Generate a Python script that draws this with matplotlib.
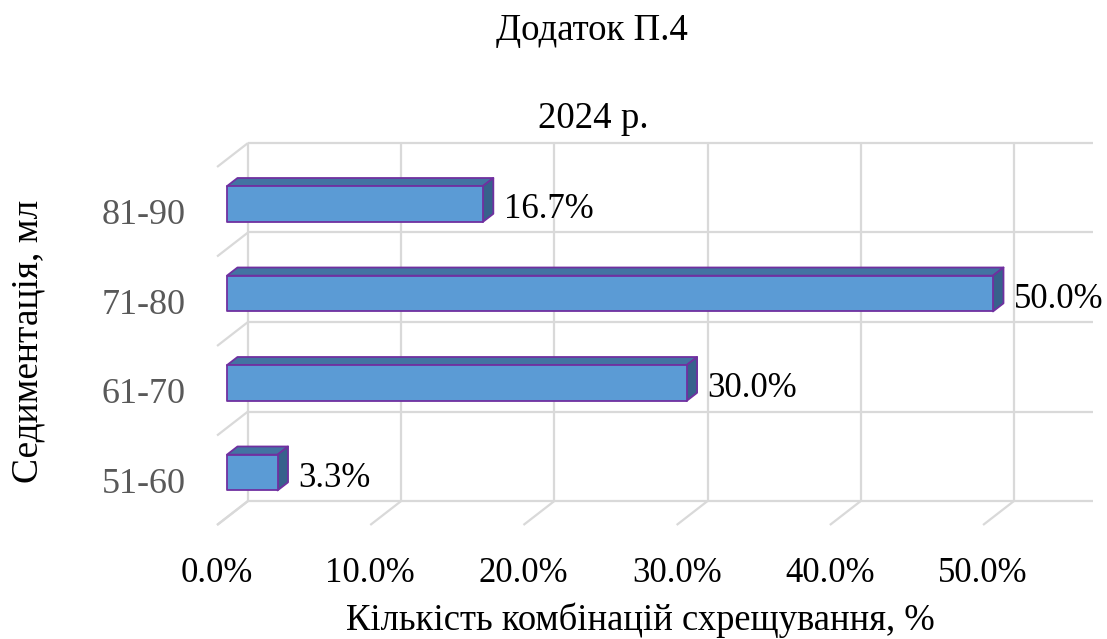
import matplotlib.pyplot as plt
from matplotlib.patches import Polygon

# data
categories = ['51-60', '61-70', '71-80', '81-90']
values = [3.3, 30.0, 50.0, 16.7]
x_ticks = [0, 10, 20, 30, 40, 50]
x_tick_labels = ['0.0%', '10.0%', '20.0%', '30.0%', '40.0%', '50.0%']

fig_title = 'Додаток П.4'
chart_title = '2024 р.'
x_title = 'Кількість комбінацій схрещування, %'
y_title = 'Седиментація, мл'

plt.rcParams['font.family'] = ['Liberation Serif', 'DejaVu Serif']

W, H = 1107, 639
fig = plt.figure(figsize=(W / 100, H / 100), dpi=100)
ax = fig.add_axes([0, 0, 1, 1])

# pixel mapping of the back wall (x in %, y in category rows)
px_per_x = 15.32
px_per_y = 89.5
x0_px, y0_px = 248, 501
ax.set_xlim(-x0_px / px_per_x, (W - x0_px) / px_per_x)
ax.set_ylim((y0_px - H) / px_per_y, y0_px / px_per_y)
ax.axis('off')

# 3D depth offset (back wall -> front of floor)
ddx, ddy = -2.02, -0.268
x_max = 55.15
n = len(categories)

grid_kw = dict(color='#d9d9d9', lw=1.6, zorder=1, solid_capstyle='butt')
for t in x_ticks:
    ax.plot([t, t], [0, n], **grid_kw)
    ax.plot([t, t + ddx], [0, ddy], **grid_kw)
for k in range(n + 1):
    ax.plot([0, x_max], [k, k], **grid_kw)
    ax.plot([0, ddx], [k, k + ddy], **grid_kw)

# bars
d0, d1 = 0.34, 0.68
h = 0.40
front_c = '#5b9bd5'
top_c = '#4373a2'
side_c = '#37618c'
edge_c = '#7030a0'
for i, v in enumerate(values):
    c = i + 0.5
    ox0, oy0 = ddx * d0, ddy * d0
    ox1, oy1 = ddx * d1, ddy * d1
    lo, hi = c - h / 2, c + h / 2
    front = [(ox1, lo + oy1), (v + ox1, lo + oy1), (v + ox1, hi + oy1), (ox1, hi + oy1)]
    top = [(ox1, hi + oy1), (v + ox1, hi + oy1), (v + ox0, hi + oy0), (ox0, hi + oy0)]
    side = [(v + ox1, lo + oy1), (v + ox1, hi + oy1), (v + ox0, hi + oy0), (v + ox0, lo + oy0)]
    for pts, col in [(top, top_c), (side, side_c), (front, front_c)]:
        ax.add_patch(Polygon(pts, closed=True, facecolor=col, edgecolor=edge_c,
                             lw=1.3, joinstyle='round', zorder=3))
    ax.text(v, c + oy1 - 0.156, f'{v:.1f}%', fontsize=25, color='black',
            ha='left', va='baseline', zorder=4)

# category labels (front plane)
for i, cat in enumerate(categories):
    ax.text(-4.05, i + 0.5 + ddy - 0.14, cat, fontsize=26, color='#595959',
            ha='right', va='baseline')

# x tick labels (front of floor)
for t, lab in zip(x_ticks, x_tick_labels):
    ax.text(t + ddx, (y0_px - 582) / px_per_y, lab, fontsize=25, color='black',
            ha='center', va='baseline')

# titles
fig.text(592 / W, 1 - 40 / H, fig_title, fontsize=26.6, ha='center', va='baseline')
fig.text(593 / W, 1 - 128 / H, chart_title, fontsize=26.6, ha='center', va='baseline')
fig.text(640 / W, 1 - 630 / H, x_title, fontsize=26.4, ha='center', va='baseline')
fig.text(28 / W, 1 - 341 / H, y_title, fontsize=27, rotation=90,
         ha='center', va='center')

fig.savefig('out.png', dpi=100)
